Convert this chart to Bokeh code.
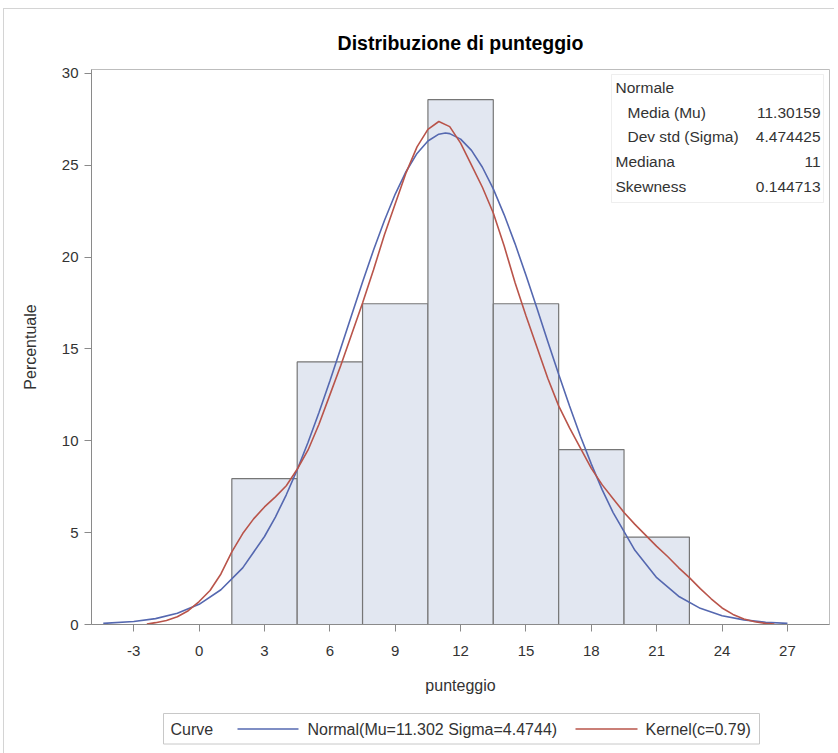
from bokeh.plotting import figure
from bokeh.models import Range1d, BoxAnnotation, Label
from bokeh.layouts import column
from bokeh.core.properties import value
from bokeh.embed import file_html
from bokeh.resources import INLINE

# ---------------- data ----------------
bin_centers = [3, 6, 9, 12, 15, 18, 21]
bin_width = 3
bin_percent = [7.94, 14.29, 17.46, 28.57, 17.46, 9.52, 4.76]

normal_x = [-4.4, -3, -2, -1, 0, 1, 2, 3, 3.5, 4, 4.5, 5, 5.5, 6, 6.5, 7, 7.5, 8, 8.5,
            9, 9.5, 10, 10.5, 11, 11.3, 11.5, 12, 12.5, 13, 13.5, 14, 14.5, 15, 15.5,
            16, 16.5, 17, 17.5, 18, 18.5, 19, 20, 21, 22, 23, 24, 25, 26, 27]
normal_y = [0.06, 0.16, 0.32, 0.61, 1.10, 1.89, 3.08, 4.79, 5.85, 7.06, 8.42, 9.92, 11.54,
            13.25, 15.04, 16.85, 18.64, 20.37, 21.98, 23.43, 24.66, 25.64, 26.32, 26.69,
            26.75, 26.72, 26.42, 25.81, 24.89, 23.71, 22.30, 20.72, 19.01, 17.23, 15.41,
            13.62, 11.89, 10.25, 8.73, 7.33, 6.09, 4.04, 2.55, 1.54, 0.88, 0.48, 0.25,
            0.12, 0.06]

kernel_x = [-2.4, -2, -1.5, -1, -0.5, 0, 0.5, 1, 1.5, 2, 2.5, 3, 3.5, 4, 4.5, 5, 5.5, 6,
            6.5, 7, 7.5, 8, 8.5, 9, 9.5, 10, 10.5, 11, 11.5, 12, 12.5, 13, 13.5, 14, 14.5,
            15, 15.5, 16, 16.5, 17, 17.5, 18, 18.5, 19, 19.5, 20, 20.5, 21, 21.5, 22,
            22.5, 23, 23.5, 24, 24.5, 25, 25.5, 26, 26.4]
kernel_y = [0.02, 0.10, 0.22, 0.42, 0.75, 1.25, 1.85, 2.75, 3.95, 4.95, 5.75, 6.40, 6.95,
            7.55, 8.45, 9.50, 10.90, 12.50, 14.10, 15.80, 17.50, 19.30, 21.20, 22.90,
            24.60, 26.00, 26.95, 27.38, 27.10, 26.20, 25.00, 23.80, 22.40, 20.60, 18.60,
            16.80, 15.10, 13.40, 11.90, 10.70, 9.60, 8.50, 7.60, 6.85, 6.10, 5.45, 4.85,
            4.25, 3.70, 3.10, 2.55, 1.95, 1.40, 0.90, 0.55, 0.30, 0.15, 0.06, 0.02]

x_ticks = [-3, 0, 3, 6, 9, 12, 15, 18, 21, 24, 27]
y_ticks = [0, 5, 10, 15, 20, 25, 30]

stats_labels = ["Normale", "Media (Mu)", "Dev std (Sigma)", "Mediana", "Skewness"]
stats_values = ["", "11.30159", "4.474425", "11", "0.144713"]
stats_indent = [False, True, True, False, False]

legend_title = "Curve"
legend_labels = ["Normal(Mu=11.302 Sigma=4.4744)", "Kernel(c=0.79)"]

# ---------------- style ----------------
FONT = "Liberation Sans"
BAR_FILL = "#e2e7f1"
BAR_LINE = "#767676"
BLUE = "#5568b0"
RED = "#b9544a"
TXT = "#333333"
AXIS = "#8a8a8a"
BOXLINE = "#c8c8c8"
PAGE_BORDER = "#d4d4d4"

# offset of the whole graph (outer border) on the page
OX, OY = 4, 9
# page geometry of the plot frame (px)
FL, FR, FT, FB = 91, 829, 69, 624
XS, XE = -4.94, 28.93
YS, YE = 0.0, 30.21
MAIN_W, MAIN_H = 830, 696


def dx(px):
    return XS + (px - FL) * (XE - XS) / (FR - FL)


def dy(py):
    return YS + (FB - py) * (YE - YS) / (FB - FT)


p = figure(width=MAIN_W, height=MAIN_H, x_range=Range1d(XS, XE), y_range=Range1d(YS, YE),
           output_backend="svg", toolbar_location=None,
           min_border_left=FL - OX, min_border_right=MAIN_W - (FR - OX),
           min_border_top=FT - OY, min_border_bottom=MAIN_H - (FB - OY),
           title="Distribuzione di punteggio")
p.title.align = "center"
p.title.text_font = FONT
p.title.text_font_size = "19.5px"
p.title.text_font_style = "bold"
p.title.text_color = "#000000"
p.title.standoff = 31

p.grid.visible = False
p.outline_line_color = "#bdbdbd"
p.background_fill_color = "white"
p.border_fill_color = "white"

lefts = [c - bin_width / 2 for c in bin_centers]
rights = [c + bin_width / 2 for c in bin_centers]
p.quad(left=lefts, right=rights, bottom=0, top=bin_percent,
       fill_color=BAR_FILL, line_color=BAR_LINE, line_width=1.2)

p.line(normal_x, normal_y, line_color=BLUE, line_width=1.6)
p.line(kernel_x, kernel_y, line_color=RED, line_width=1.6)

for ax in (p.xaxis[0], p.yaxis[0]):
    ax.axis_line_color = AXIS
    ax.major_tick_line_color = AXIS
    ax.minor_tick_line_color = None
    ax.major_tick_out = 7
    ax.major_tick_in = 0
    ax.major_label_text_font = FONT
    ax.major_label_text_font_size = "15px"
    ax.major_label_text_color = TXT
    ax.axis_label_text_font = FONT
    ax.axis_label_text_font_size = "16px"
    ax.axis_label_text_font_style = "normal"
    ax.axis_label_text_color = TXT

p.xaxis.ticker = x_ticks
p.yaxis.ticker = y_ticks
p.xaxis.major_label_overrides = {t: str(t) for t in x_ticks}
p.yaxis.major_label_overrides = {t: str(t) for t in y_ticks}
p.xaxis.axis_label = "punteggio"
p.yaxis.axis_label = "Percentuale"
p.xaxis.major_label_standoff = 14
p.xaxis.axis_label_standoff = 18
p.yaxis.major_label_standoff = 6
p.yaxis.axis_label_standoff = 20

# statistics inset
p.add_layout(BoxAnnotation(left=dx(611), right=dx(823), top=dy(74), bottom=dy(202),
                           fill_color="white", fill_alpha=1.0,
                           line_color=BOXLINE, line_width=1))
row_py = [87, 112, 136, 161, 186]
for lab, val, ind, py in zip(stats_labels, stats_values, stats_indent, row_py):
    p.add_layout(Label(x=dx(627 if ind else 615), y=dy(py), text=lab,
                       text_font=FONT, text_font_size="15.5px", text_color=TXT,
                       text_baseline="middle", text_align="left"))
    if val:
        p.add_layout(Label(x=dx(820), y=dy(py), text=val,
                           text_font=FONT, text_font_size="15.5px", text_color=TXT,
                           text_baseline="middle", text_align="right"))

# ---------------- legend strip (page pixel coordinates) ----------------
# the column aligns this strip's frame with the main frame (FL..FR)
LG_TOP = OY + MAIN_H
LG_BOTTOM = 753
lg = figure(width=MAIN_W, height=LG_BOTTOM - LG_TOP, x_range=Range1d(FL, FR),
            y_range=Range1d(LG_BOTTOM, LG_TOP),
            output_backend="svg", toolbar_location=None, min_border=0,
            x_axis_type=None, y_axis_type=None)
lg.grid.visible = False
lg.outline_line_color = None
lg.background_fill_color = "white"
lg.border_fill_color = "white"

lg.quad(left=[163], right=[759], top=[713], bottom=[743.5],
        fill_color="white", line_color=BOXLINE, line_width=1)
ly = 728.5
lg.text(x=[170], y=[ly], text=[legend_title], text_baseline="middle",
        text_font=value(FONT), text_font_size="16px", text_color=TXT)
lg.segment(x0=[237, 575], y0=[ly, ly], x1=[298, 637], y1=[ly, ly],
           line_color=[BLUE, RED], line_width=1.6)
lg.text(x=[307, 645], y=[ly, ly], text=legend_labels, text_baseline="middle",
        text_font=value(FONT), text_font_size="16px", text_color=TXT)

layout = column(p, lg, spacing=0, margin=(OY - 1, 0, 0, OX - 1),
                styles={"border-left": "1px solid " + PAGE_BORDER,
                        "border-top": "1px solid " + PAGE_BORDER})
open("out.html", "w").write(file_html(layout, INLINE))
